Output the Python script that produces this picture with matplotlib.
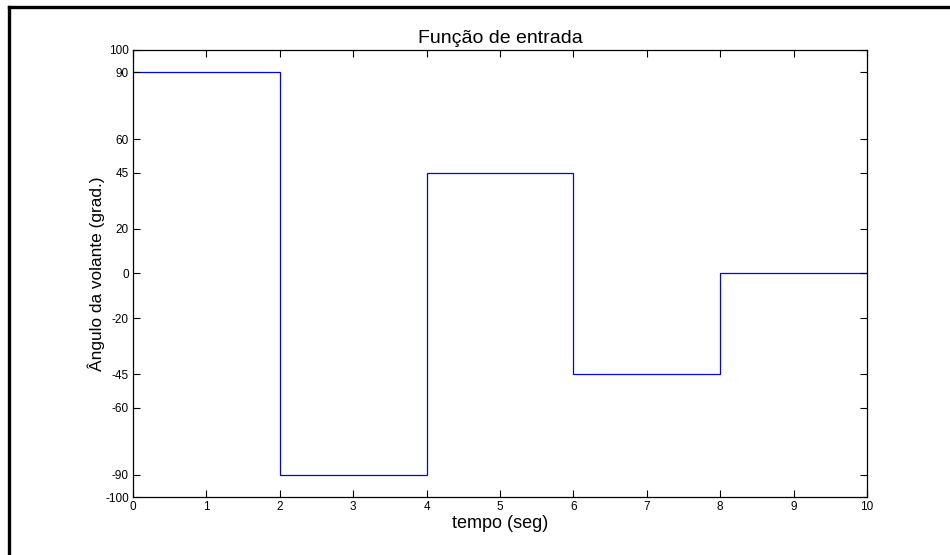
import matplotlib
matplotlib.use("Agg")
import matplotlib.pyplot as plt
from matplotlib.lines import Line2D

# step input: steering wheel angle vs time
t_edges = [0, 2, 4, 6, 8, 10]
angles = [90, -90, 45, -45, 0]

yticks = [-100, -90, -60, -45, -20, 0, 20, 45, 60, 90, 100]
xticks = [0, 1, 2, 3, 4, 5, 6, 7, 8, 9, 10]

plt.rcParams['font.family'] = ['Liberation Sans', 'DejaVu Sans']
plt.rcParams['axes.unicode_minus'] = False

fig = plt.figure(figsize=(9.5, 5.55), dpi=100)
ax = fig.add_axes([0.14, 0.1045, 0.7726, 0.8055])

# stairs from the data
ax.stairs(angles, t_edges, color='#0000ff', linewidth=0.9, baseline=None)

ax.set_xlim(0, 10)
ax.set_ylim(-100, 100)
ax.set_xticks(xticks)
ax.set_yticks(yticks)
ax.tick_params(direction='in', length=5, width=0.8, labelsize=8.5,
               top=True, right=True, pad=3)
for s in ax.spines.values():
    s.set_linewidth(0.9)

ax.set_title("Função de entrada", fontsize=14, pad=5)
ax.set_xlabel("tempo (seg)", fontsize=13, labelpad=1)
ax.set_ylabel("Ângulo da volante (grad.)", fontsize=12.4, labelpad=0)

# outer frame (only top and left edges visible)
fig.add_artist(Line2D([0.009, 1.0], [0.9865, 0.9865], transform=fig.transFigure,
                      color='black', linewidth=2.4))
fig.add_artist(Line2D([0.009, 0.009], [0.0, 0.9865], transform=fig.transFigure,
                      color='black', linewidth=2.4))

fig.savefig("out.png", dpi=100)
